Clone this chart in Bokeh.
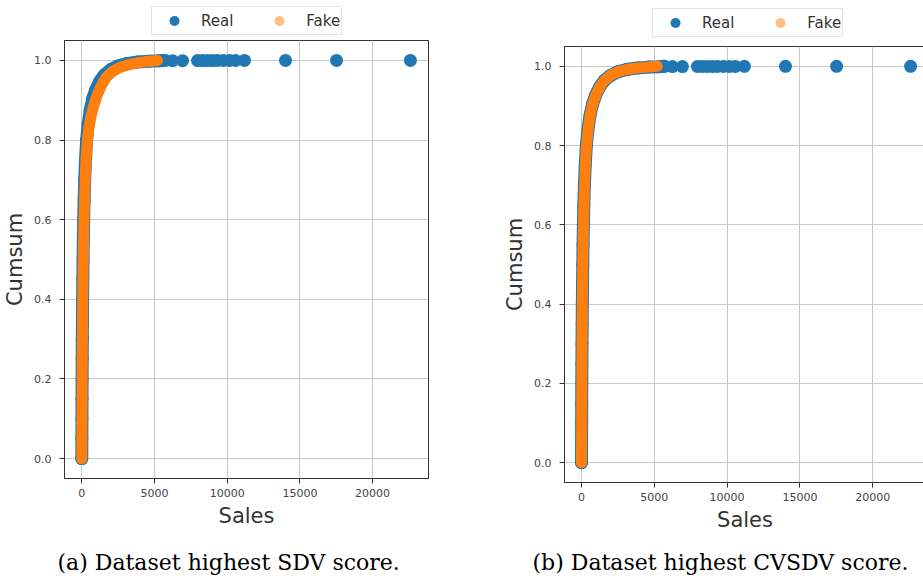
from bokeh.plotting import figure
from bokeh.models import (Range1d, FixedTicker, PrintfTickFormatter, Legend, LegendItem,
                          Title, ColumnDataSource)
from bokeh.layouts import row, column
from bokeh.embed import file_html
from bokeh.resources import INLINE

# ---------------- data ----------------
# Real (blue) cumulative distribution, dense part
real_x = [0, 5, 10, 15, 20, 27, 35, 45, 56, 70, 86, 106, 130, 160, 200, 255, 330, 440,
          580, 760, 980, 1250, 1560, 2000, 2480, 3100, 3850, 4600, 5300, 5700]
real_y = [0.00, 0.05, 0.10, 0.15, 0.20, 0.25, 0.30, 0.35, 0.40, 0.45, 0.50, 0.55, 0.60,
          0.65, 0.70, 0.75, 0.80, 0.84, 0.875, 0.905, 0.928, 0.948, 0.964, 0.977, 0.986,
          0.992, 0.996, 0.998, 0.999, 1.000]
# Real (blue) isolated large values
real_tail_x = [6240, 6930, 7960, 8300, 8650, 8990, 9330, 9750, 10160, 10570, 11190,
               14010, 17520, 22600]
real_tail_y = [0.9993, 0.9994, 0.9995, 0.9995, 0.9996, 0.9996, 0.9997, 0.9997, 0.9998,
               0.9998, 0.9999, 0.9999, 1.0, 1.0]

# Fake (orange), panel (a): highest SDV score
fake_a_x = [0, 6, 12, 18, 25, 33, 42, 53, 66, 82, 100, 122, 150, 185, 230, 290, 380, 500,
            650, 850, 1080, 1350, 1650, 2100, 2650, 3300, 4000, 4600, 5200]
fake_a_y = [0.00, 0.05, 0.10, 0.15, 0.20, 0.25, 0.30, 0.35, 0.40, 0.45, 0.50, 0.55, 0.60,
            0.65, 0.70, 0.75, 0.80, 0.835, 0.862, 0.89, 0.915, 0.937, 0.956, 0.972,
            0.983, 0.990, 0.995, 0.998, 1.000]

# Fake (orange), panel (b): highest CVSDV score
fake_b_x = [0, 5, 11, 16, 22, 29, 37, 47, 59, 73, 90, 110, 135, 166, 205, 262, 340, 450,
            590, 770, 990, 1260, 1570, 2000, 2480, 3100, 3850, 4550, 5200]
fake_b_y = [0.00, 0.05, 0.10, 0.15, 0.20, 0.25, 0.30, 0.35, 0.40, 0.45, 0.50, 0.55, 0.60,
            0.65, 0.70, 0.75, 0.80, 0.84, 0.875, 0.905, 0.928, 0.948, 0.964, 0.977,
            0.986, 0.992, 0.996, 0.998, 1.000]

x_ticks = [0, 5000, 10000, 15000, 20000]
y_ticks = [0.0, 0.2, 0.4, 0.6, 0.8, 1.0]
series_labels = ["Real", "Fake"]
captions = ["(a) Dataset highest SDV score.", "(b) Dataset highest CVSDV score."]

BLUE = "#1f77b4"
ORANGE = "#ff7f0e"
DARK = "#333333"


def make_legend_strip(width, height, loc, fake_x, fake_y):
    # strip above the plot that only carries the legend (its ranges hold no data)
    q = figure(width=width, height=height, output_backend="svg", toolbar_location=None,
               title=None, x_axis_location=None, y_axis_location=None,
               x_range=Range1d(-2, -1), y_range=Range1d(-2, -1),
               min_border_left=0, min_border_right=0, min_border_top=0,
               min_border_bottom=0, background_fill_color="white",
               border_fill_color="white")
    q.outline_line_color = None
    q.grid.visible = False
    lr = q.scatter(x=real_x, y=real_y, size=13, fill_color=BLUE, line_color=None)
    lf = q.scatter(x=fake_x, y=fake_y, size=11, fill_color=ORANGE, fill_alpha=0.5,
                   line_color=None)
    legend = Legend(items=[LegendItem(label=series_labels[0], renderers=[lr]),
                           LegendItem(label=series_labels[1], renderers=[lf])],
                    orientation="horizontal", location=loc,
                    margin=0, padding=1, spacing=25,
                    glyph_width=42, glyph_height=25, label_height=25, label_standoff=6,
                    label_text_font="DejaVu Sans", label_text_font_size="15px",
                    label_text_color=DARK, border_line_color="#cccccc",
                    border_line_width=1, background_fill_color="white",
                    background_fill_alpha=1.0)
    q.add_layout(legend, "center")
    return q


def make_panel(fake_x, fake_y, caption, fw, fh, b_left, b_right,
               x_start, x_end, cap_offset, gap):
    p = figure(frame_width=fw, frame_height=fh, output_backend="svg",
               toolbar_location=None, title=None,
               x_range=Range1d(x_start, x_end), y_range=Range1d(-0.05, 1.05),
               min_border_left=b_left, min_border_right=b_right,
               min_border_top=0, min_border_bottom=40,
               background_fill_color="white", border_fill_color="white")
    p.outline_line_color = DARK
    p.outline_line_width = 1

    # axes
    for ax in (p.xaxis[0], p.yaxis[0]):
        ax.axis_line_color = DARK
        ax.major_tick_line_color = DARK
        ax.minor_tick_line_color = None
        ax.major_tick_in = 0
        ax.major_tick_out = 5
        ax.major_label_text_font = "DejaVu Sans"
        ax.major_label_text_font_size = "11px"
        ax.major_label_text_color = "#444444"
        ax.axis_label_text_font = "DejaVu Sans"
        ax.axis_label_text_font_size = "21px"
        ax.axis_label_text_font_style = "normal"
        ax.axis_label_text_color = DARK
    p.xaxis.ticker = FixedTicker(ticks=x_ticks)
    p.yaxis.ticker = FixedTicker(ticks=y_ticks)
    p.xaxis.formatter = PrintfTickFormatter(format="%d")
    p.yaxis.formatter = PrintfTickFormatter(format="%.1f")
    p.xaxis.major_label_standoff = 5
    p.yaxis.major_label_standoff = 8
    p.xaxis.axis_label = "Sales"
    p.yaxis.axis_label = "Cumsum"
    p.xaxis.axis_label_standoff = 4
    p.yaxis.axis_label_standoff = 4

    p.grid.grid_line_color = "#c8c8c8"
    p.grid.grid_line_width = 1

    real_src = ColumnDataSource(dict(x=real_x, y=real_y))
    tail_src = ColumnDataSource(dict(x=real_tail_x, y=real_tail_y))
    fake_src = ColumnDataSource(dict(x=fake_x, y=fake_y))

    # Real: dense curve of many overlapping markers
    p.line("x", "y", source=real_src, line_color=BLUE, line_width=13,
           line_cap="round", line_join="round")
    p.scatter("x", "y", source=real_src, size=13, fill_color=BLUE, line_color=None)
    p.scatter("x", "y", source=tail_src, size=13, fill_color=BLUE, line_color=None)

    # Fake
    p.line("x", "y", source=fake_src, line_color=ORANGE, line_width=11,
           line_cap="round", line_join="round")
    p.scatter("x", "y", source=fake_src, size=11, fill_color=ORANGE,
              fill_alpha=0.5, line_color=None)

    # empty spacer between the axis and the caption
    spacer = Title(text=" ", standoff=gap, text_font_size="1px")
    p.add_layout(spacer, "below")
    cap = Title(text=caption, align="left", offset=cap_offset, standoff=8,
                text_font="DejaVu Serif", text_font_size="22px",
                text_font_style="normal", text_color="black")
    p.add_layout(cap, "below")
    return p


leg1 = make_legend_strip(495, 40, (87, 5), fake_a_x, fake_a_y)
p1 = make_panel(fake_a_x, fake_a_y, captions[0], fw=364, fh=438,
                b_left=59, b_right=72, x_start=-1190, x_end=23845,
                cap_offset=-7, gap=10)
leg2 = make_legend_strip(420, 46, (88, 9), fake_b_x, fake_b_y)
p2 = make_panel(fake_b_x, fake_b_y, captions[1], fw=361, fh=436,
                b_left=59, b_right=0, x_start=-1168, x_end=23626,
                cap_offset=-32, gap=6)

layout = row(column(leg1, p1), column(leg2, p2))
open("out.html", "w").write(file_html(layout, INLINE))
